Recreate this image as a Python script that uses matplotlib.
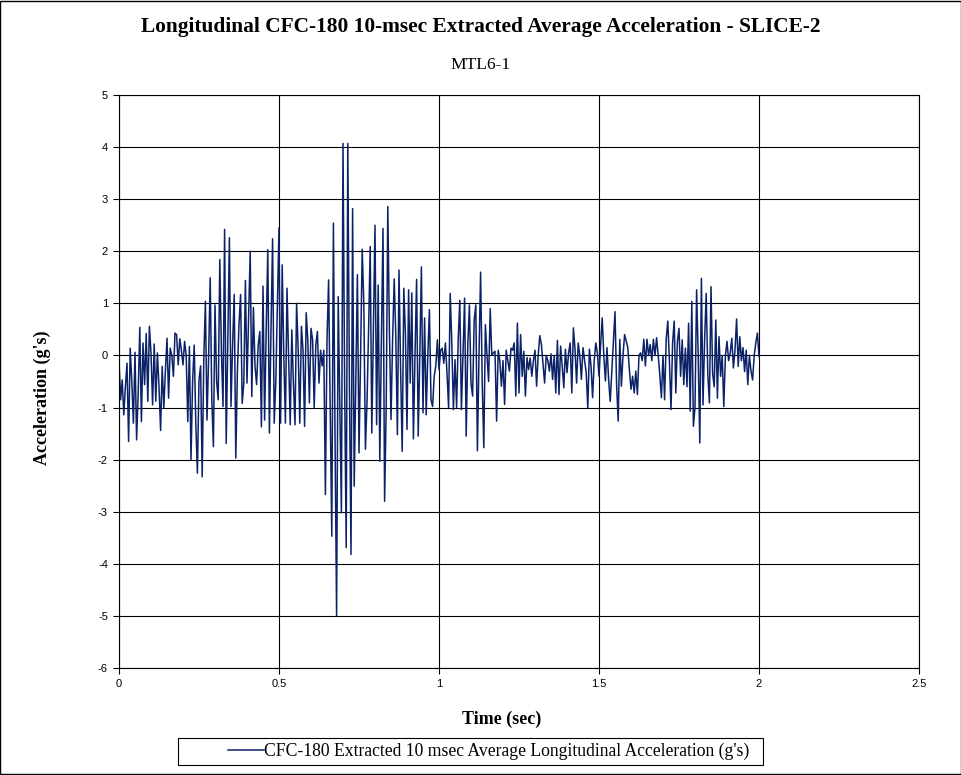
import matplotlib

matplotlib.use("Agg")
import matplotlib.pyplot as plt
import numpy as np
from matplotlib.patches import Rectangle
from matplotlib.ticker import FuncFormatter, MultipleLocator

LINE_COLOR = "#0b2268"
SERIF = "Liberation Serif"
SANS = "Liberation Sans"

TITLE = "Longitudinal CFC-180 10-msec Extracted Average Acceleration - SLICE-2"
SUBTITLE = "MTL6-1"
X_LABEL = "Time (sec)"
Y_LABEL = "Acceleration (g's)"
SERIES_NAME = "CFC-180 Extracted 10 msec Average Longitudinal Acceleration (g's)"

SAMPLE_STEP = 0.005  # sec between samples
# acceleration (g's), one row per 0.1 sec
accel = [
    -0.1, -0.85, -0.47, -1.14, -0.6, -0.15, -1.65, 0.14, -0.5, -1.3,
    0.06, -1.62, -0.72, 0.54, -1.27, 0.24, -0.56, 0.42, -0.88, 0.56,
    0.05, -0.95, 0.22, -0.88, 0.05, -0.6, -1.44, -0.21, -1.01, -0.3,
    0.33, -0.82, 0.14, 0.0, -0.4, 0.43, 0.4, -0.18, 0.32, 0.1,
    -0.18, 0.27, 0.0, -1.27, 0.17, -2.0, -0.5, 0.2, -1.3, -2.26,
    -0.47, -0.2, -2.33, -0.05, 1.04, -1.24, -0.05, 1.49, -0.85, -1.75,
    0.97, -0.5, -0.85, 1.84, 0.1, -0.98, 2.42, -1.69, 0.3, 2.26,
    -0.98, 0.2, 1.17, -1.97, -0.3, 0.6, 1.17, -0.92, -0.53, 1.44,
    -0.53, 0.7, 2.0, -0.79, 0.92, -0.2, -0.56, 0.2, 0.46, -1.37,
    1.33, -1.24, 0.5, 2.03, -1.49, 0.5, 2.24, -1.3, -0.5, 1.0,
    2.45, -1.3, 1.74, 0.0, -1.3, 1.29, 0.0, -1.33, 0.49, -0.53,
    -1.33, 1.0, 0.1, -1.3, 0.56, 0.1, -1.36, 0.82, 0.3, -0.91,
    0.52, 0.3, -1.0, 0.2, 0.46, -0.53, 0.1, -0.2, 0.1, -2.67,
    0.3, 1.45, -1.0, -3.47, 2.54, -1.5, -5.0, 1.13, -1.0, -3.02,
    4.07, -0.5, -3.69, 4.07, -0.5, -3.82, 2.82, -2.51, -0.5, 1.55,
    -1.87, 0.0, 2.04, 1.0, -1.8, -0.91, 0.5, 2.09, -1.49, 0.5,
    2.5, -1.33, 1.35, -2.03, 0.3, 2.44, -2.8, -1.0, 2.86, 0.5,
    -1.23, 0.3, 1.47, 0.36, -1.52, 1.64, -0.27, -1.84, 1.29, 0.43,
    -1.42, 1.26, -0.53, 1.2, -1.6, 0.0, 1.46, -1.55, 0.0, 1.7,
    -1.1, 0.72, -1.14, 0.0, 0.88, -0.85, -0.98, -0.4, -0.2, 0.3,
    -0.27, 0.1, 0.14, -0.15, 0.24, -0.34, -1.0, 1.19, 0.24, -1.04,
    -0.08, -1.0, 0.3, 1.06, -1.04, 0.0, 1.1, -1.55, 0.2, 0.97,
    -0.53, -0.78, 0.68, 0.97, -1.83, 0.0, 1.6, -0.5, -1.77, 0.59,
    0.0, -0.5, 0.9, 0.0, 0.05, 0.08, -1.26, 0.1, -0.1, -0.59,
    -0.1, -0.94, 0.1, -0.1, -0.3, 0.14, 0.1, 0.24, -0.78, 0.62,
    -0.72, 0.4, -0.4, 0.08, -0.78, -0.04, -0.27, -0.05, -0.4, -0.1,
    0.1, -0.59, 0.0, 0.38, 0.21, -0.15, -0.53, 0.0, -0.1, -0.3,
    0.03, -0.46, 0.0, -0.72, 0.29, -0.75, 0.18, -0.2, -0.62, 0.12,
    -0.33, 0.05, 0.24, -0.72, 0.53, 0.12, -0.53, 0.24, 0.0, -0.46,
    0.15, -0.1, -0.33, -1.01, 0.12, -0.2, -0.81, -0.1, 0.24, 0.05,
    -0.4, 0.2, 0.72, 0.0, -0.49, 0.15, -0.46, -0.88, -0.3, 0.3,
    0.84, -0.56, -1.26, 0.31, -0.59, 0.0, 0.4, 0.28, 0.15, -0.27,
    -0.65, -0.4, -0.72, -0.3, -0.75, 0.0, 0.05, -0.1, 0.31, -0.2,
    0.31, 0.0, 0.21, -0.1, 0.31, 0.0, 0.34, 0.0, -0.37, -0.81,
    0.0, -0.85, 0.31, 0.66, -0.1, -1.04, 0.24, 0.66, -0.72, 0.27,
    0.52, -0.4, 0.3, -0.56, 0.14, -0.6, 0.62, -1.07, 1.04, -1.36,
    -1.0, 1.26, 0.0, -1.68, 1.48, -0.95, 0.3, 1.19, -0.37, -0.91,
    1.32, -0.34, -0.6, 0.68, -0.82, 0.36, -0.4, 0.0, -0.98, 0.0,
    0.27, -0.1, 0.05, 0.33, -0.24, 0.1, 0.7, -0.21, 0.36, -0.1,
    0.15, -0.31, 0.1, -0.56, 0.0, -0.3, -0.47, 0.0, 0.24, 0.43,
    -0.02,
]
time = np.arange(len(accel)) * SAMPLE_STEP

fig = plt.figure(figsize=(9.61, 7.75), dpi=100)
ax = fig.add_axes((119 / 961, 1 - 668 / 775, 800 / 961, 573 / 775))

ax.plot(time, accel, color=LINE_COLOR, lw=1.1, label=SERIES_NAME)

ax.set_xlim(0, 2.5)
ax.set_ylim(-6, 5)
ax.xaxis.set_major_locator(MultipleLocator(0.5))
ax.yaxis.set_major_locator(MultipleLocator(1))
ax.xaxis.set_major_formatter(FuncFormatter(lambda v, p: f"{v:g}"))
ax.yaxis.set_major_formatter(FuncFormatter(lambda v, p: f"{v:g}"))
ax.grid(True, color="black", lw=0.8)
ax.set_axisbelow(True)
for s in ax.spines.values():
    s.set_color("black")
    s.set_linewidth(0.8)
ax.tick_params(direction="out", length=4, width=0.8, labelsize=8, pad=4)
for lab in ax.get_xticklabels() + ax.get_yticklabels():
    lab.set_fontfamily(SANS)

fig.text(0.5, 1 - 27 / 775, TITLE, ha="center", va="center",
         family=SERIF, weight="bold", fontsize=15.4)
fig.text(0.5, 1 - 65 / 775, SUBTITLE, ha="center", va="center",
         family=SERIF, fontsize=12.6)
fig.text(502 / 961, 1 - 719 / 775, X_LABEL, ha="center", va="center",
         family=SERIF, weight="bold", fontsize=13)
fig.text(42 / 961, 1 - 398 / 775, Y_LABEL, ha="center", va="center",
         rotation=90, family=SERIF, weight="bold", fontsize=13)

# legend entry without frame, box drawn separately (Excel-style padding)
fig.legend(loc="center", bbox_to_anchor=(489 / 961, 1 - 751.5 / 775),
           frameon=False, prop={"family": SERIF, "size": 12.7},
           handlelength=2.0, handletextpad=0.05, borderpad=0.25,
           borderaxespad=0)
fig.patches.append(Rectangle((178 / 961, 1 - 765 / 775), 585 / 961, 27 / 775,
                             transform=fig.transFigure, fill=False,
                             edgecolor="black", lw=0.8))

fig.patches.append(Rectangle((0.0005, 0.0007), 0.999, 0.9986, transform=fig.transFigure,
                             fill=False, edgecolor="black", lw=1))

fig.savefig("out.png", dpi=100)
